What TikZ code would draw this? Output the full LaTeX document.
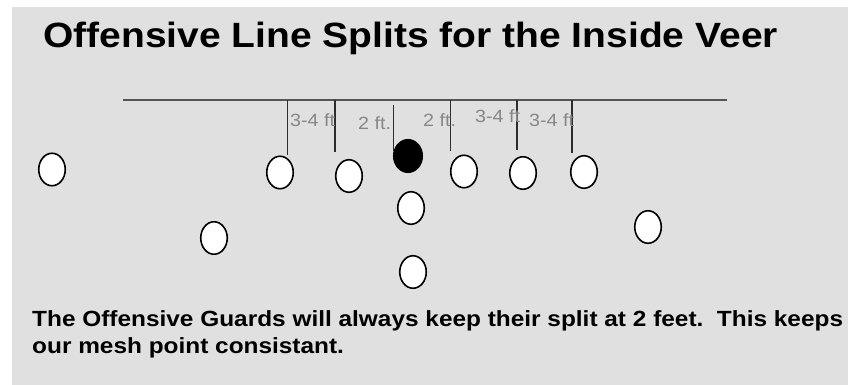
\documentclass[tikz,border=0pt]{standalone}
\usepackage{fontspec}
\setmainfont{Liberation Sans}
\usetikzlibrary{shapes.geometric}
\definecolor{bg}{RGB}{224,224,224}
\definecolor{lbl}{RGB}{135,135,135}
\definecolor{losgray}{RGB}{85,85,85}
\definecolor{tickgray}{RGB}{45,45,45}
\newcommand{\vsq}[1]{\scalebox{1}[0.9]{#1}}
\begin{document}
\begin{tikzpicture}[x=1pt,y=-1pt,
  player/.style={ellipse, draw=black, line width=1.6pt, fill=white,
    minimum width=26.5pt, minimum height=32.5pt, inner sep=0pt},
  snapper/.style={player, fill=black, minimum width=28.5pt},
  splitlbl/.style={anchor=base west, inner sep=0pt, text=lbl,
    font=\fontsize{19.7}{22}\selectfont},
  tickline/.style={draw=tickgray, line width=1.3pt},
  losline/.style={draw=losgray, line width=1.8pt},
  titletext/.style={anchor=base west, inner sep=0pt,
    font=\fontsize{39}{46}\selectfont\bfseries},
  bodytext/.style={anchor=base west, inner sep=0pt,
    font=\fontsize{24.4}{29}\selectfont\bfseries}
]
\useasboundingbox (0,0) rectangle (848,385);
\fill[bg] (12,7) rectangle (848,385);

% title
\node[titletext] (title) at (43,48) {\vsq{Offensive Line Splits for the Inside Veer}};

% line of scrimmage
\coordinate (losL) at (123,100);
\coordinate (losR) at (727,100);
\draw[losline] (losL) -- (losR);

% split ticks
\coordinate (t1a) at (287.3,100); \coordinate (t1b) at (287.3,155);
\coordinate (t2a) at (335,100);   \coordinate (t2b) at (335,152);
\coordinate (t3a) at (393.3,105); \coordinate (t3b) at (393.3,151);
\coordinate (t4a) at (450.7,100); \coordinate (t4b) at (450.7,151);
\coordinate (t5a) at (517,100);   \coordinate (t5b) at (517,149.5);
\coordinate (t6a) at (572,100);   \coordinate (t6b) at (572,153);
\foreach \i in {1,...,6} {\draw[tickline] (t\i a) -- (t\i b);}

% split labels
\node[splitlbl] (s1) at (290,127) {\vsq{3-4 ft}};
\node[splitlbl] (s2) at (358,129) {\vsq{2 ft.}};
\node[splitlbl] (s3) at (423,126) {\vsq{2 ft.}};
\node[splitlbl] (s4) at (475,123) {\vsq{3-4 ft}};
\node[splitlbl] (s5) at (529,127) {\vsq{3-4 ft}};

% players
\node[player] (se) at (52,169.5) {};
\node[player] (lt) at (280,172.5) {};
\node[player] (lg) at (349,176) {};
\node[snapper] (c) at (408,156) {};
\node[player] (rg) at (464,171.5) {};
\node[player] (rt) at (523,173) {};
\node[player] (te) at (584,172) {};
\node[player] (qb) at (411,208) {};
\node[player] (hb) at (214,238) {};
\node[player] (fb) at (413,272) {};
\node[player] (wb) at (648,227) {};

% body text
\node[bodytext] (body1) at (32,326) {\vsq{The Offensive Guards will always keep their split at 2 feet.\ \ This keeps}};
\node[bodytext] (body2) at (32,353) {\vsq{our mesh point consistant.}};
\end{tikzpicture}
\end{document}
